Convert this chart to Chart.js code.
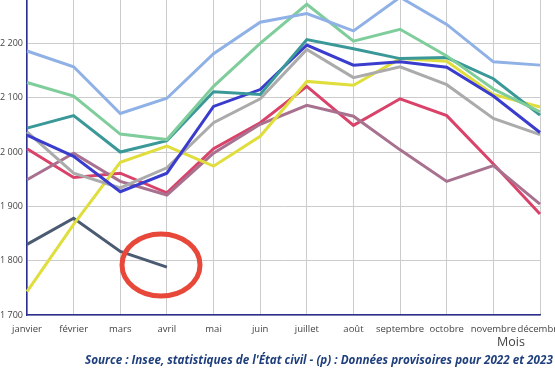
<!DOCTYPE html>
<html>
<head>
<meta charset="utf-8">
<script src="https://cdn.jsdelivr.net/npm/chart.js@4"></script>
<style>
  html, body { margin: 0; padding: 0; background: #fff; }
  #wrap { position: relative; width: 555px; height: 370px; overflow: hidden; }
  #chart { position: absolute; left: 0; top: -10px; }
  .note { position: absolute; font-family: "Open Sans", sans-serif; white-space: nowrap; }
  #mois { left: 497px; top: 333px; font-size: 12.5px; color: #444; }
  #source { left: 85px; top: 351px; font-size: 11.7px; font-weight: bold; font-style: italic; color: #1f3f7c; }
</style>
</head>
<body>
<div id="wrap">
  <canvas id="chart" width="600" height="380"></canvas>
  <div class="note" id="mois">Mois</div>
  <div class="note" id="source">Source : Insee, statistiques de l'État civil - (p) : Données provisoires pour 2022 et 2023</div>
</div>
<script>
// Months on the x axis
const months = ['janvier', 'février', 'mars', 'avril', 'mai', 'juin', 'juillet', 'août',
                'septembre', 'octobre', 'novembre', 'décembre'];

// Average daily births per month, one array per year
const births2015 = [2186, 2157, 2071, 2099, 2181, 2239, 2255, 2223, 2285, 2235, 2166, 2160];
const births2016 = [2128, 2103, 2033, 2023, 2121, 2200, 2272, 2204, 2226, 2177, 2116, 2074];
const births2017 = [2044, 2067, 2000, 2021, 2111, 2106, 2207, 2190, 2172, 2174, 2135, 2068];
const births2018 = [2031, 1992, 1927, 1961, 2084, 2115, 2197, 2160, 2166, 2156, 2103, 2036];
const births2019 = [2037, 1961, 1934, 1971, 2054, 2098, 2189, 2137, 2157, 2124, 2062, 2032];
const births2020 = [2006, 1953, 1961, 1925, 2006, 2054, 2121, 2049, 2098, 2067, 1978, 1886];
const births2021 = [1743, 1867, 1981, 2011, 1974, 2029, 2130, 2123, 2172, 2167, 2106, 2083];
const births2022 = [1949, 1998, 1946, 1921, 1998, 2051, 2086, 2066, 2004, 1946, 1975, 1904];
const births2023 = [1830, 1878, 1817, 1788];

// Y axis range and tick step
const yMin = 1700;
const yMax = 2281;
const yStep = 100;

function series(label, data, color) {
    return {
        label: label,
        data: data,
        borderColor: color,
        backgroundColor: color,
        borderWidth: 3,
        pointRadius: 0,
        tension: 0,
        fill: false
    };
}

// Hand-drawn style red ring from the screenshot (canvas is shifted up 10px)
const redRing = {
    id: 'redRing',
    afterDraw(chart) {
        const ctx = chart.ctx;
        ctx.save();
        ctx.strokeStyle = '#e8483a';
        ctx.lineWidth = 5;
        ctx.beginPath();
        ctx.ellipse(161, 275, 39, 31, 0, 0, Math.PI * 2);
        ctx.stroke();
        ctx.restore();
    }
};

new Chart(document.getElementById('chart'), {
    type: 'line',
    data: {
        labels: months,
        datasets: [
            series('2015', births2015, '#8fb1e6'),
            series('2016', births2016, '#7fcd9b'),
            series('2017', births2017, '#3a9998'),
            series('2018', births2018, '#3a3cce'),
            series('2019', births2019, '#ababab'),
            series('2021', births2021, '#e0de3c'),
            series('2022', births2022, '#a8718f'),
            series('2020', births2020, '#d9436a'),
            series('2023', births2023, '#4b5b72')
        ]
    },
    options: {
        responsive: false,
        animation: false,
        layout: { padding: { left: 0, right: 60, top: 0, bottom: 0 } },
        plugins: {
            legend: { display: false },
            tooltip: { enabled: false }
        },
        scales: {
            x: {
                offset: false,
                grid: { color: '#cccccc', lineWidth: 1, drawTicks: false },
                border: { color: '#2b2f8f', width: 1.5 },
                ticks: {
                    padding: 9,
                    maxRotation: 0,
                    autoSkip: false,
                    color: '#444',
                    font: { family: 'Open Sans', size: 9.5 }
                },
                afterFit(scale) { scale.height = 55; }
            },
            y: {
                min: yMin,
                max: yMax,
                grid: { color: '#cccccc', lineWidth: 1, drawTicks: false },
                border: { color: '#2b2f8f', width: 1.5 },
                ticks: {
                    stepSize: yStep,
                    padding: 4,
                    color: '#444',
                    font: { family: 'Open Sans', size: 9 },
                    callback: v => String(v).replace(/\B(?=(\d{3})+(?!\d))/g, ' ')
                },
                afterBuildTicks(scale) {
                    scale.ticks = scale.ticks.filter(t => t.value % yStep === 0);
                },
                afterFit(scale) { scale.width = 27; }
            }
        }
    },
    plugins: [redRing]
});
</script>
</body>
</html>
